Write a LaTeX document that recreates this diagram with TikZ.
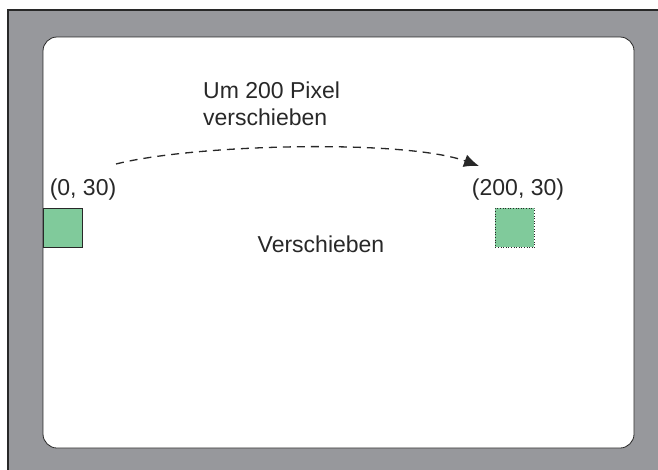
\documentclass[tikz,border=0pt]{standalone}
\usepackage{fontspec}
\setmainfont{Liberation Sans}
\usetikzlibrary{positioning, arrows.meta}

\definecolor{framegray}{RGB}{151,152,156}
\definecolor{boxgreen}{RGB}{128,202,155}
\definecolor{inkgray}{RGB}{40,40,40}

\begin{document}
\begin{tikzpicture}[x=1pt, y=-1pt,
        txt/.style={font=\fontsize{23}{27}\selectfont, text=inkgray, inner sep=0pt},
        sprite/.style={fill=boxgreen, draw=inkgray, line width=0.6pt, minimum size=39pt, inner sep=0pt},
        ghost/.style={sprite, dotted}]
                \useasboundingbox (0,0) rectangle (658,469);

                % stage and canvas
                \draw[fill=framegray, draw=inkgray, line width=1.8pt] (8,10) rectangle (680,490);
                \draw[fill=white, draw=inkgray, line width=0.8pt, rounded corners=14pt] (43,37) rectangle (634,448);

                \node[sprite, anchor=north west] (start) at (43,208) {};
                \node[ghost, anchor=north west] (goal) at (495,208) {};

                \node[txt] (startlbl) at (83,190) {(0, 30)};
                \node[txt] (goallbl) at (518,190) {(200, 30)};
                \node[txt] (action) at (321,244) {Verschieben};
                \node[txt, align=left, anchor=north west] (hint) at (203,82) {Um 200 Pixel\\verschieben};

                \coordinate (from) at (116,164);
                \coordinate (to) at (479,166);
                \draw[inkgray, line width=1.3pt, dash pattern=on 8pt off 6pt, -{Latex[length=15pt, width=13pt]}]
                    (from) .. controls (195,144) and (405,139) .. (to);
            \end{tikzpicture}
\end{document}
